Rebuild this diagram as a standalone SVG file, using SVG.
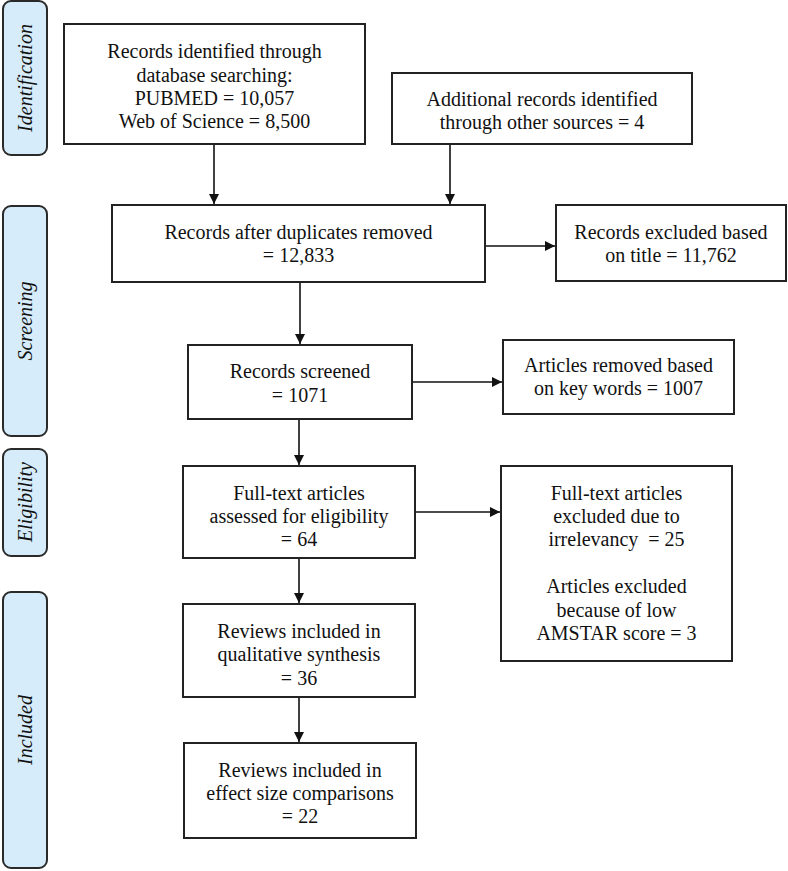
<svg xmlns="http://www.w3.org/2000/svg" width="788" height="871" viewBox="0 0 788 871">
<defs>
<marker id="ah" markerWidth="10" markerHeight="10" refX="10" refY="5" orient="auto" markerUnits="userSpaceOnUse">
<path d="M0,0 L10,5 L0,10 Z" fill="#111"/>
</marker>
</defs>
<style>
.box{fill:#fff;stroke:#222;stroke-width:2}
.lab{fill:#d6ecfa;stroke:#2a2a2a;stroke-width:2}
.t{font-family:"Liberation Serif","Times New Roman",serif;font-size:20px;fill:#111;text-anchor:middle}
.s{font-family:"Liberation Serif","Times New Roman",serif;font-size:20px;font-style:italic;fill:#111;text-anchor:middle}
.c{stroke:#111;stroke-width:1.6;fill:none;marker-end:url(#ah)}
</style>
<rect width="788" height="871" fill="#fff"/>
<g id="stage-identification">
<rect class="lab" x="3" y="1" width="44" height="154" rx="8"/>
<text class="s" transform="translate(32,78) rotate(-90)">Identification</text>
</g>
<g id="stage-screening">
<rect class="lab" x="3" y="206" width="44" height="230" rx="8"/>
<text class="s" transform="translate(32,321) rotate(-90)">Screening</text>
</g>
<g id="stage-eligibility">
<rect class="lab" x="3" y="449" width="44" height="107" rx="8"/>
<text class="s" transform="translate(32,502) rotate(-90)">Eligibility</text>
</g>
<g id="stage-included">
<rect class="lab" x="3" y="592" width="44" height="276" rx="8"/>
<text class="s" transform="translate(32,730) rotate(-90)">Included</text>
</g>
<g id="n-database">
<rect class="box" x="64" y="24" width="301" height="120"/>
<text class="t" x="214.5" y="58">Records identified through</text>
<text class="t" x="214.5" y="82">database searching:</text>
<text class="t" x="214.5" y="105">PUBMED = 10,057</text>
<text class="t" x="214.5" y="128">Web of Science = 8,500</text>
</g>
<g id="n-additional">
<rect class="box" x="392" y="73" width="300" height="71"/>
<text class="t" x="542" y="106">Additional records identified</text>
<text class="t" x="542" y="129">through other sources = 4</text>
</g>
<g id="n-duplicates">
<rect class="box" x="112" y="205" width="373" height="77"/>
<text class="t" x="298.5" y="239">Records after duplicates removed</text>
<text class="t" x="298.5" y="262">= 12,833</text>
</g>
<g id="n-title-excluded">
<rect class="box" x="556" y="205" width="230" height="76"/>
<text class="t" x="671" y="239">Records excluded based</text>
<text class="t" x="671" y="262">on title = 11,762</text>
</g>
<g id="n-screened">
<rect class="box" x="188" y="345" width="224" height="74"/>
<text class="t" x="300" y="378">Records screened</text>
<text class="t" x="300" y="402">= 1071</text>
</g>
<g id="n-keywords">
<rect class="box" x="503" y="340" width="231" height="74"/>
<text class="t" x="618.5" y="372">Articles removed based</text>
<text class="t" x="618.5" y="395">on key words = 1007</text>
</g>
<g id="n-fulltext">
<rect class="box" x="183" y="466" width="232" height="92"/>
<text class="t" x="299" y="500">Full-text articles</text>
<text class="t" x="299" y="523">assessed for eligibility</text>
<text class="t" x="299" y="546">= 64</text>
</g>
<g id="n-fulltext-excluded">
<rect class="box" x="501" y="466" width="231" height="195"/>
<text class="t" x="616.5" y="500">Full-text articles</text>
<text class="t" x="616.5" y="523">excluded due to</text>
<text class="t" x="616.5" y="546" xml:space="preserve">irrelevancy  = 25</text>
<text class="t" x="616.5" y="593">Articles excluded</text>
<text class="t" x="616.5" y="617">because of low</text>
<text class="t" x="616.5" y="640">AMSTAR score = 3</text>
</g>
<g id="n-qualitative">
<rect class="box" x="183" y="604" width="232" height="93"/>
<text class="t" x="299" y="638">Reviews included in</text>
<text class="t" x="299" y="661">qualitative synthesis</text>
<text class="t" x="299" y="685">= 36</text>
</g>
<g id="n-effect">
<rect class="box" x="184" y="743" width="232" height="95"/>
<text class="t" x="300" y="777">Reviews included in</text>
<text class="t" x="300" y="800">effect size comparisons</text>
<text class="t" x="300" y="823">= 22</text>
</g>
<g id="connectors">
<line class="c" x1="214" y1="145" x2="214" y2="204"/>
<line class="c" x1="450" y1="145" x2="450" y2="204"/>
<line class="c" x1="486" y1="246" x2="555" y2="246"/>
<line class="c" x1="300" y1="283" x2="300" y2="344"/>
<line class="c" x1="413" y1="382" x2="502" y2="382"/>
<line class="c" x1="299" y1="420" x2="299" y2="465"/>
<line class="c" x1="416" y1="512" x2="500" y2="512"/>
<line class="c" x1="299" y1="559" x2="299" y2="603"/>
<line class="c" x1="299" y1="698" x2="299" y2="742"/>
</g>
</svg>
